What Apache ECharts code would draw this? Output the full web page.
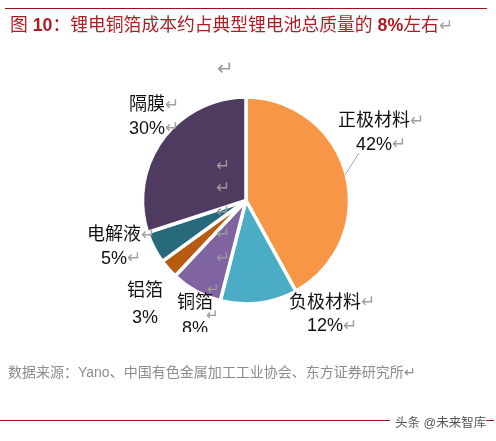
<!DOCTYPE html>
<html>
<head>
<meta charset="utf-8">
<style>html,body{margin:0;padding:0;background:#fff}#main{width:496px;height:441px}</style>
<script src="https://cdn.jsdelivr.net/npm/echarts@6/dist/echarts.min.js"></script>
</head>
<body>
<div id="main"></div>
<script>
var names = ['正极材料', '负极材料', '铜箔', '铝箔', '电解液', '隔膜'];
var values = [42, 12, 8, 3, 5, 30];
var colors = ['#F79646', '#4BACC6', '#8064A2', '#B85A10', '#276A7C', '#4F3A60'];
// label centres
var labelX = [381, 332, 195, 145, 121, 154];
var labelY = [133, 314.5, 316, 305, 247, 117];
var hasMark = [true, true, false, false, true, true];

var font = '"Liberation Sans","Noto Sans CJK SC",sans-serif';
var titleRed = '#B01C24';
var lineRed = '#A01016';
var mark = '↵';

var myChart = echarts.init(document.getElementById('main'));

var pieData = [];
for (var i = 0; i < names.length; i++) {
    pieData.push({
        name: names[i],
        value: values[i],
        itemStyle: {color: colors[i]}
    });
}

function strayMark(x, y, size) {
    return {
        type: 'text', x: x, y: y, z: 50,
        style: {text: mark, fill: '#9A9A9A', font: size + 'px ' + font, align: 'center', verticalAlign: 'middle'}
    };
}

option = {
    backgroundColor: '#fff',
    animation: false,
    series: [{
        type: 'pie',
        center: [246, 200.5],
        radius: [0, 103.5],
        startAngle: 90,
        clockwise: true,
        z: 2,
        data: pieData,
        itemStyle: {borderColor: '#fff', borderWidth: 3.5},
        label: {
            show: true,
            formatter: function (p) {
                var r = hasMark[p.dataIndex] ? '{r|' + mark + '}' : '';
                var style = p.dataIndex === 3 ? 'w' : (p.dataIndex === 2 ? 'c' : 't');
                return '{' + style + '|' + p.name + '}' + r + '\n{' + style + '|' + p.value + '%}' + r;
            },
            rich: {
                t: {fontSize: 18, color: '#111', fontFamily: font, lineHeight: 23.5},
                c: {fontSize: 18, color: '#111', fontFamily: font, lineHeight: 26},
                w: {fontSize: 18, color: '#111', fontFamily: font, lineHeight: 27},
                r: {fontSize: 17, color: '#A0A0A0', fontFamily: font, lineHeight: 23.5}
            }
        },
        labelLine: {show: false},
        labelLayout: function (p) {
            return {x: labelX[p.dataIndex], y: labelY[p.dataIndex], align: 'center', verticalAlign: 'middle'};
        }
    }],
    graphic: [
        {type: 'line', z: 40, shape: {x1: 5, y1: 8.5, x2: 487, y2: 8.5}, style: {stroke: lineRed, lineWidth: 1}},
        {type: 'text', x: 10, y: 26, z: 40, style: {
            text: '{a|图 }{n|10}{a|：锂电铜箔成本约占典型锂电池总质量的 }{n|8%}{a|左右}{b|' + mark + '}',
            verticalAlign: 'middle',
            rich: {
                a: {fontSize: 17.8, fill: titleRed, fontFamily: font},
                n: {fontSize: 17.8, fill: titleRed, fontFamily: font, fontWeight: 'bold'},
                b: {fontSize: 17, fill: '#A0A0A0', fontFamily: font}
            }
        }},
        // leader line of 正极材料
        {type: 'line', z: 40, shape: {x1: 345, y1: 175, x2: 359, y2: 153}, style: {stroke: '#A6A6A6', lineWidth: 1}},
        strayMark(225, 69, 20),
        strayMark(223, 166, 17),
        strayMark(223, 188, 17),
        strayMark(223, 212, 17),
        strayMark(223, 234, 17),
        strayMark(223, 258, 17),
        strayMark(213, 290, 15),
        strayMark(212, 316, 15),
        // the 8% label is cut off in the source
        {type: 'rect', z: 60, shape: {x: 170, y: 332, width: 60, height: 22}, style: {fill: '#fff'}},
        {type: 'text', x: 8, y: 373, z: 70, style: {
            text: '数据来源：Yano、中国有色金属加工工业协会、东方证券研究所' + mark,
            fill: '#8C8C8C', font: '14px ' + font, verticalAlign: 'middle'
        }},
        {type: 'line', z: 40, shape: {x1: 0, y1: 420.5, x2: 390, y2: 420.5}, style: {stroke: lineRed, lineWidth: 1}},
        {type: 'line', z: 40, shape: {x1: 480, y1: 420.5, x2: 494, y2: 420.5}, style: {stroke: lineRed, lineWidth: 1}},
        {type: 'text', x: 395, y: 424, z: 70, style: {
            text: '头条 @未来智库', fill: '#555', stroke: '#fff', lineWidth: 2,
            font: '12.5px ' + font, verticalAlign: 'middle'
        }}
    ]
};

myChart.setOption(option);
</script>
</body>
</html>
